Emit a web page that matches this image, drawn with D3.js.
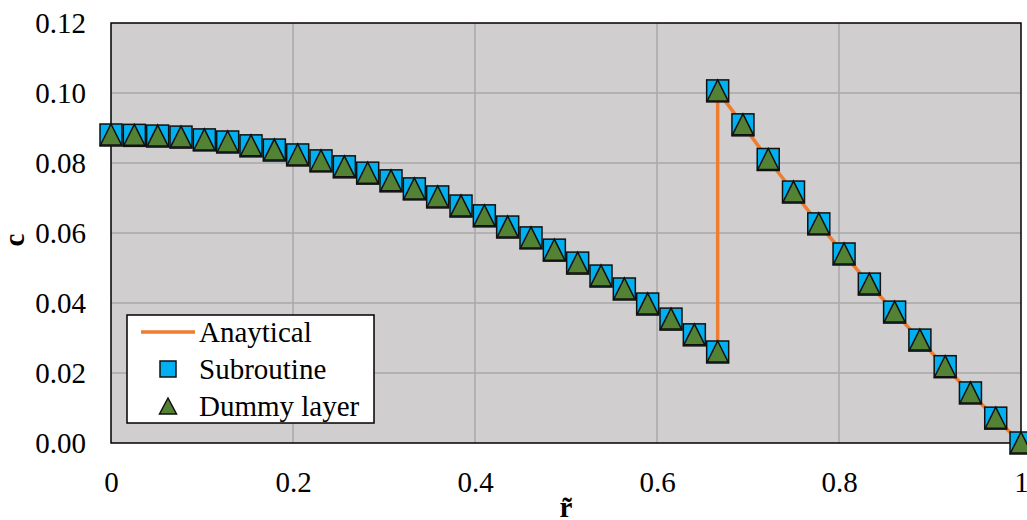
<!DOCTYPE html>
<meta charset="utf-8">
<style>
  body { margin: 0; background: #fff; }
  .grid line { stroke: #a9a9a9; stroke-width: 1.5px; }
</style>
<svg width="1027" height="520"></svg>
<script src="https://d3js.org/d3.v7.min.js"></script>
<script>
  // radius values: 27 points up to 2/3, then 13 points from 2/3 to 1
  var rInner = d3.range(27).map(i => i * (2 / 3) / 26)
  var rOuter = d3.range(13).map(i => 2 / 3 + i / 36)
  var cInner = [0.0880, 0.0879, 0.0877, 0.0874, 0.0866, 0.0860, 0.0849, 0.0837, 0.0823,
    0.0806, 0.0789, 0.0771, 0.0749, 0.0726, 0.0703, 0.0677, 0.0649, 0.0617, 0.0586,
    0.0551, 0.0514, 0.0477, 0.0440, 0.0397, 0.0354, 0.0309, 0.0260]
  var cOuter = [0.1006, 0.0909, 0.0810, 0.0717, 0.0626, 0.0540, 0.0454, 0.0374,
    0.0294, 0.0218, 0.0143, 0.0071, 0.0000]
  var xTicks = [0, 0.2, 0.4, 0.6, 0.8, 1]
  var yTicks = [0, 0.02, 0.04, 0.06, 0.08, 0.10, 0.12]
  var legendNames = ["Anaytical", "Subroutine", "Dummy layer"]

  var serif = "'Liberation Serif', 'Times New Roman', serif"
  var svg = d3.select("svg"),
    pLeft = 111, pRight = 1021, pTop = 23, pBottom = 443

  var x = d3.scaleLinear().domain([0, 1]).range([pLeft, pRight])
  var y = d3.scaleLinear().domain([0, 0.12]).range([pBottom, pTop])

  var pts = rInner.map((r, i) => [r, cInner[i]])
    .concat(rOuter.map((r, i) => [r, cOuter[i]]))

  svg.append("rect")
    .attr("x", pLeft).attr("y", pTop)
    .attr("width", pRight - pLeft).attr("height", pBottom - pTop)
    .attr("fill", "#d0cece")

  // gridlines
  svg.append("g").attr("class", "grid")
    .selectAll("line").data(yTicks.slice(1, -1)).enter().append("line")
    .attr("x1", pLeft).attr("x2", pRight)
    .attr("y1", d => y(d)).attr("y2", d => y(d))
  svg.append("g").attr("class", "grid")
    .selectAll("line").data(xTicks.slice(1, -1)).enter().append("line")
    .attr("y1", pTop).attr("y2", pBottom)
    .attr("x1", d => x(d)).attr("x2", d => x(d))

  svg.append("rect")
    .attr("x", pLeft).attr("y", pTop)
    .attr("width", pRight - pLeft).attr("height", pBottom - pTop)
    .attr("fill", "none").attr("stroke", "#000").attr("stroke-width", 1.5)

  // axes (labels only)
  svg.append("g")
    .attr("transform", "translate(0," + pBottom + ")")
    .call(d3.axisBottom(x).tickValues(xTicks).tickSize(0).tickPadding(28)
      .tickFormat(d => d === 0 ? "0" : d === 1 ? "1" : d3.format(".1f")(d)))
  svg.append("g")
    .attr("transform", "translate(" + pLeft + ",0)")
    .call(d3.axisLeft(y).tickValues(yTicks).tickSize(0).tickPadding(25)
      .tickFormat(d3.format(".2f")))
  svg.selectAll(".domain").remove()
  svg.selectAll(".tick text").attr("fill", "#000")

  svg.append("text")
    .attr("transform", "translate(24,240) rotate(-90)")
    .attr("text-anchor", "middle")
    .attr("font-weight", "bold")
    .text("c")
  svg.append("text")
    .attr("x", (pLeft + pRight) / 2).attr("y", 517)
    .attr("text-anchor", "middle")
    .attr("font-weight", "bold")
    .text("r\u0303")

  // analytical line
  var line = d3.line().x(d => x(d[0])).y(d => y(d[1]))
  svg.append("path")
    .datum(pts)
    .attr("d", line)
    .attr("fill", "none")
    .attr("stroke", "#ed7d31")
    .attr("stroke-width", 3.5)

  function tri(w, h) {
    return "M0," + (-h / 2) + "L" + (w / 2) + "," + (h / 2) + "L" + (-w / 2) + "," + (h / 2) + "Z"
  }

  svg.append("g").selectAll("rect").data(pts).enter().append("rect")
    .attr("x", d => x(d[0]) - 11).attr("y", d => y(d[1]) - 11)
    .attr("width", 22).attr("height", 22)
    .attr("fill", "#00b0f0").attr("stroke", "#111").attr("stroke-width", 1.5)

  svg.append("g").selectAll("path").data(pts).enter().append("path")
    .attr("transform", d => "translate(" + x(d[0]) + "," + (y(d[1]) - 0.5) + ")")
    .attr("d", tri(21, 21))
    .attr("fill", "#548235").attr("stroke", "#111").attr("stroke-width", 1.5)

  // legend
  var lg = svg.append("g")
  lg.append("rect")
    .attr("x", 127).attr("y", 315).attr("width", 247).attr("height", 108)
    .attr("fill", "#fff").attr("stroke", "#000").attr("stroke-width", 1.5)
  var rowY = [332, 369, 406]
  lg.append("line")
    .attr("x1", 141).attr("x2", 195).attr("y1", rowY[0]).attr("y2", rowY[0])
    .attr("stroke", "#ed7d31").attr("stroke-width", 3.5)
  lg.append("rect")
    .attr("x", 160).attr("y", rowY[1] - 8).attr("width", 16).attr("height", 16)
    .attr("fill", "#00b0f0").attr("stroke", "#111").attr("stroke-width", 1.5)
  lg.append("path")
    .attr("transform", "translate(168," + rowY[2] + ")")
    .attr("d", tri(17, 16))
    .attr("fill", "#548235").attr("stroke", "#111").attr("stroke-width", 1.5)
  lg.selectAll("text.lab").data(legendNames).enter().append("text")
    .attr("class", "lab")
    .attr("x", 199).attr("y", (d, i) => rowY[i] + 10)
    .text(d => d)

  // one font for every text
  svg.selectAll("text")
    .attr("font-family", serif)
    .attr("font-size", 29)
</script>
